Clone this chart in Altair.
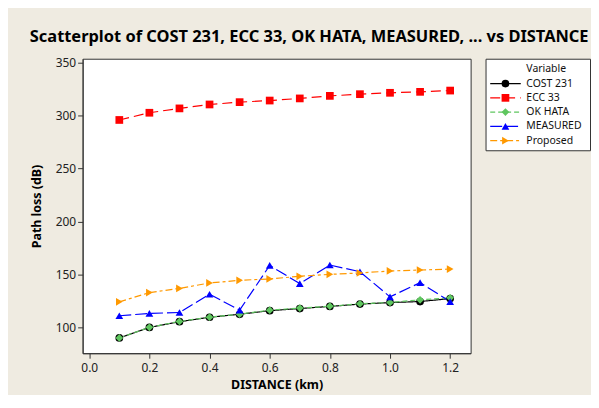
import altair as alt
import pandas as pd

# ---- data ----
distance = [0.1, 0.2, 0.3, 0.4, 0.5, 0.6, 0.7, 0.8, 0.9, 1.0, 1.1, 1.2]
series_names = ["COST 231", "ECC 33", "OK HATA", "MEASURED", "Proposed"]
cost231 = [90.3, 100.2, 105.6, 109.8, 112.6, 116.0, 118.0, 120.0, 122.2, 123.6, 124.6, 127.4]
ecc33 = [295.7, 302.5, 306.6, 310.3, 312.5, 314.0, 316.0, 318.4, 320.0, 321.3, 322.2, 323.4]
okhata = [90.3, 100.3, 105.9, 109.9, 112.7, 116.5, 118.4, 120.2, 122.5, 123.7, 126.2, 128.1]
measured = [111.2, 113.4, 114.3, 131.5, 116.5, 158.6, 141.5, 159.0, 152.7, 129.0, 142.4, 124.6]
proposed = [124.3, 133.0, 137.0, 142.1, 144.6, 145.9, 148.4, 150.2, 151.5, 153.4, 154.3, 155.2]
x_ticks = [0.0, 0.2, 0.4, 0.6, 0.8, 1.0, 1.2]
y_ticks = [100, 150, 200, 250, 300, 350]

colors = ["#000000", "#FF0000", "#5FC65F", "#0000FF", "#FF9900"]
shapes = ["circle", "square", "diamond", "triangle-up", "triangle-right"]
dashes = [[1, 0], [10, 5], [5, 3], [12, 4], [7, 3, 3, 3]]

values = [cost231, ecc33, okhata, measured, proposed]
rows = []
for name, vals in zip(series_names, values):
    for d, v in zip(distance, vals):
        rows.append({"series": name, "DISTANCE": d, "loss": v})
df = pd.DataFrame(rows)

FONT = "Noto Sans"

color_scale = alt.Scale(domain=series_names, range=colors)
shape_scale = alt.Scale(domain=series_names, range=shapes)
dash_scale = alt.Scale(domain=series_names, range=dashes)

x_enc = alt.X("DISTANCE:Q", title="DISTANCE (km)",
              scale=alt.Scale(domain=[-0.022, 1.268], nice=False, zero=False),
              axis=alt.Axis(values=x_ticks, format=".1f", grid=False))
y_enc = alt.Y("loss:Q", title="Path loss (dB)",
              scale=alt.Scale(domain=[75.9, 353.4], nice=False, zero=False),
              axis=alt.Axis(values=y_ticks, grid=False))

base = alt.Chart(df)
lines = base.mark_line(strokeWidth=1.2).encode(
    x=x_enc, y=y_enc,
    color=alt.Color("series:N", scale=color_scale, legend=None),
    strokeDash=alt.StrokeDash("series:N", scale=dash_scale, legend=None),
)
points = base.mark_point(filled=True, opacity=1, size=60).encode(
    x=x_enc, y=y_enc,
    color=alt.Color("series:N", scale=color_scale, legend=None),
    shape=alt.Shape("series:N", scale=shape_scale, legend=None),
)
main = alt.layer(lines, points).properties(width=390, height=296)

# ---- legend drawn as its own small panel ----
leg_df = pd.DataFrame({"series": series_names, "row": list(range(1, len(series_names) + 1))})
title_df = pd.DataFrame({"label": ["Variable"], "row": [0]})
leg_y = alt.Y("row:Q", scale=alt.Scale(domain=[-0.743, 5.674], reverse=True, nice=False, zero=False), axis=None)

leg_lines = alt.Chart(leg_df).mark_rule(strokeWidth=1.2).encode(
    x=alt.value(4.7), x2=alt.value(35.4), y=leg_y,
    color=alt.Color("series:N", scale=color_scale, legend=None),
    strokeDash=alt.StrokeDash("series:N", scale=dash_scale, legend=None),
)
leg_pts = alt.Chart(leg_df).mark_point(filled=True, opacity=1, size=60).encode(
    x=alt.value(20), y=leg_y,
    color=alt.Color("series:N", scale=color_scale, legend=None),
    shape=alt.Shape("series:N", scale=shape_scale, legend=None),
)
leg_text = alt.Chart(leg_df).mark_text(align="left", baseline="middle", font=FONT, fontSize=10.5, color="#111").encode(
    x=alt.value(41), y=leg_y, text="series:N",
)
leg_title = alt.Chart(title_df).mark_text(align="left", baseline="middle", font=FONT, fontSize=10.5, color="#111").encode(
    x=alt.value(41), y=leg_y, text="label:N",
)
legend = alt.layer(leg_lines, leg_pts, leg_text, leg_title).properties(width=105, height=92)

chart = alt.hconcat(main, legend, spacing=13).properties(
    title=alt.TitleParams("Scatterplot of COST 231, ECC 33, OK HATA, MEASURED, ... vs DISTANCE",
                          font=FONT, fontSize=16.5, fontWeight="bold", color="#000",
                          anchor="start", frame="bounds", offset=10),
    background="#EFEBE1",
    padding={"left": 21, "top": 20, "right": 0, "bottom": 3},
).configure_view(
    stroke="#333333", fill="white", strokeWidth=1,
).configure_axis(
    labelFont=FONT, labelFontSize=12, labelColor="#222",
    titleFont=FONT, titleFontSize=12.5, titleFontWeight="bold", titleColor="#000",
    domainColor="#333", tickColor="#333", tickSize=5, labelPadding=2,
).configure_axisY(titlePadding=12).configure_axisX(titlePadding=5, labelPadding=4)

chart.save("out.html", embed_options={"renderer": "svg", "actions": False})
